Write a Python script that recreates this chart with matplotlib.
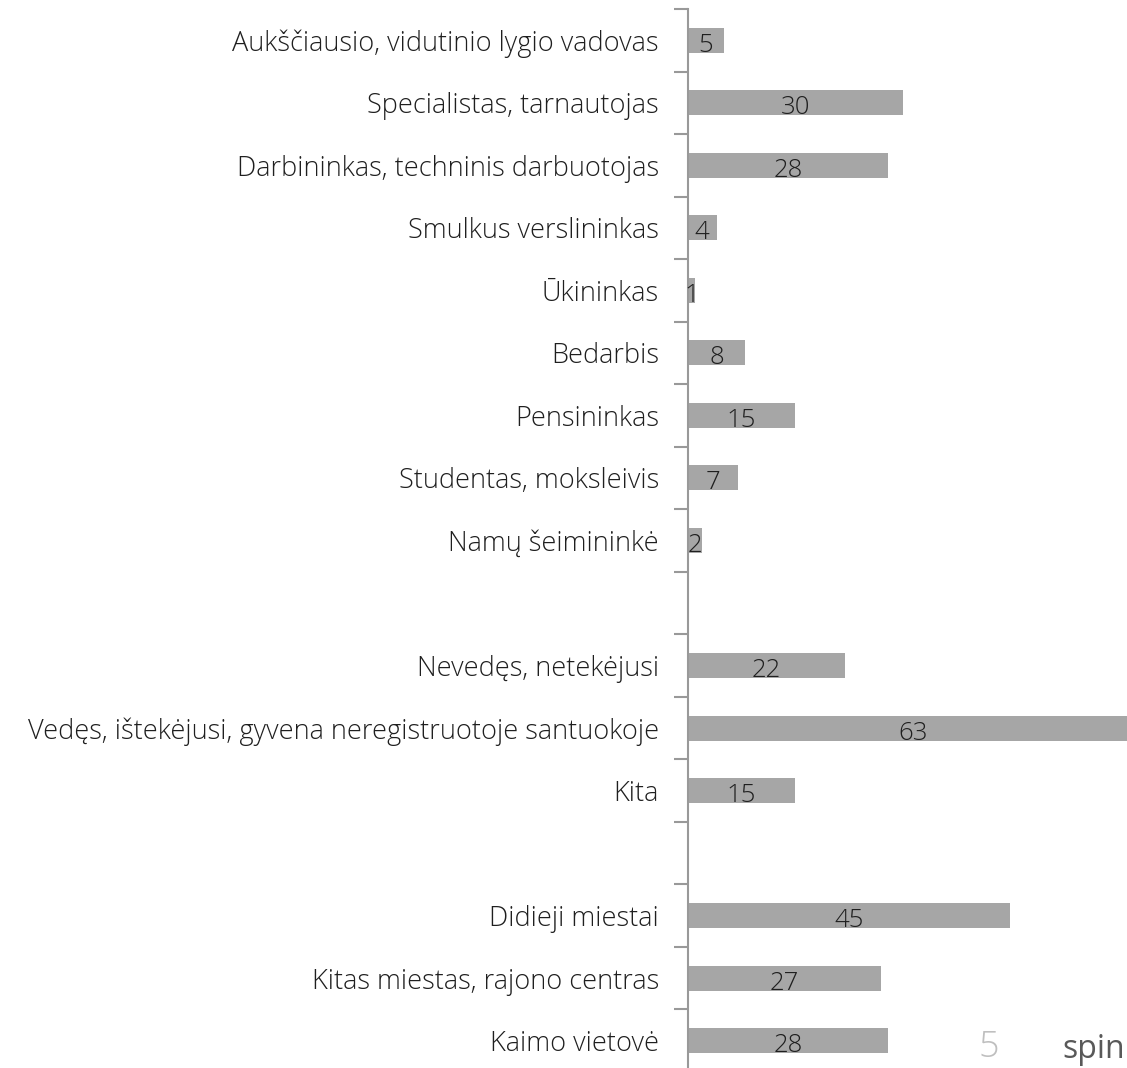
import matplotlib
matplotlib.use("Agg")
import matplotlib.pyplot as plt

categories = [
    "Aukščiausio, vidutinio lygio vadovas",
    "Specialistas, tarnautojas",
    "Darbininkas, techninis darbuotojas",
    "Smulkus verslininkas",
    "Ūkininkas",
    "Bedarbis",
    "Pensininkas",
    "Studentas, moksleivis",
    "Namų šeimininkė",
    "",
    "Nevedęs, netekėjusi",
    "Vedęs, ištekėjusi, gyvena neregistruotoje santuokoje",
    "Kita",
    "",
    "Didieji miestai",
    "Kitas miestas, rajono centras",
    "Kaimo vietovė",
]
values = [5, 30, 28, 4, 1, 8, 15, 7, 2, None, 22, 63, 15, None, 45, 27, 28]

fam = ["Open Sans", "DejaVu Sans"]
W, H = 1127, 1068
fig = plt.figure(figsize=(W / 100, H / 100), dpi=100)
left = 688 / W
top = 1 - 9 / H
bottom = 1 - 1072 / H
px_per_unit = 7.15
xmax = 65
right = (688 + xmax * px_per_unit) / W
ax = fig.add_axes([left, bottom, right - left, top - bottom])

n = len(categories)
ys = list(range(n))
bar_color = "#a6a6a6"
for y, v in zip(ys, values):
    if v is None:
        continue
    ax.barh(y, v, height=0.4, color=bar_color, edgecolor="none")
    ax.text(v / 2, y + 0.08, str(v), ha="center", va="center",
            fontsize=18.5, color="#1f1f1f", family=fam, fontweight="light")

ax.set_xlim(0, xmax)
ax.set_ylim(n - 0.5, -0.5)
ax.set_yticks(ys)
ax.set_yticklabels(categories, family=fam, fontweight="light", fontsize=19.5, color="#1f1f1f")
ax.tick_params(axis="y", which="major", length=0, pad=21)
ax.set_yticks([i - 0.5 for i in range(n + 1)], minor=True)
ax.tick_params(axis="y", which="minor", length=10, width=1.5, color="#999999")
ax.set_xticks([])
for s in ["top", "right", "bottom"]:
    ax.spines[s].set_visible(False)
ax.spines["left"].set_color("#999999")
ax.spines["left"].set_linewidth(1.5)

fig.text(989 / W, 1 - 1066 / H, "5", ha="center", va="bottom", fontsize=26,
         color="#bfbfbf", family=fam, fontweight="light")
fig.text(1125 / W, 1 - 1066 / H, "spin", ha="right", va="bottom", fontsize=23,
         color="#595959", family=fam)

fig.savefig("out.png", dpi=100)
